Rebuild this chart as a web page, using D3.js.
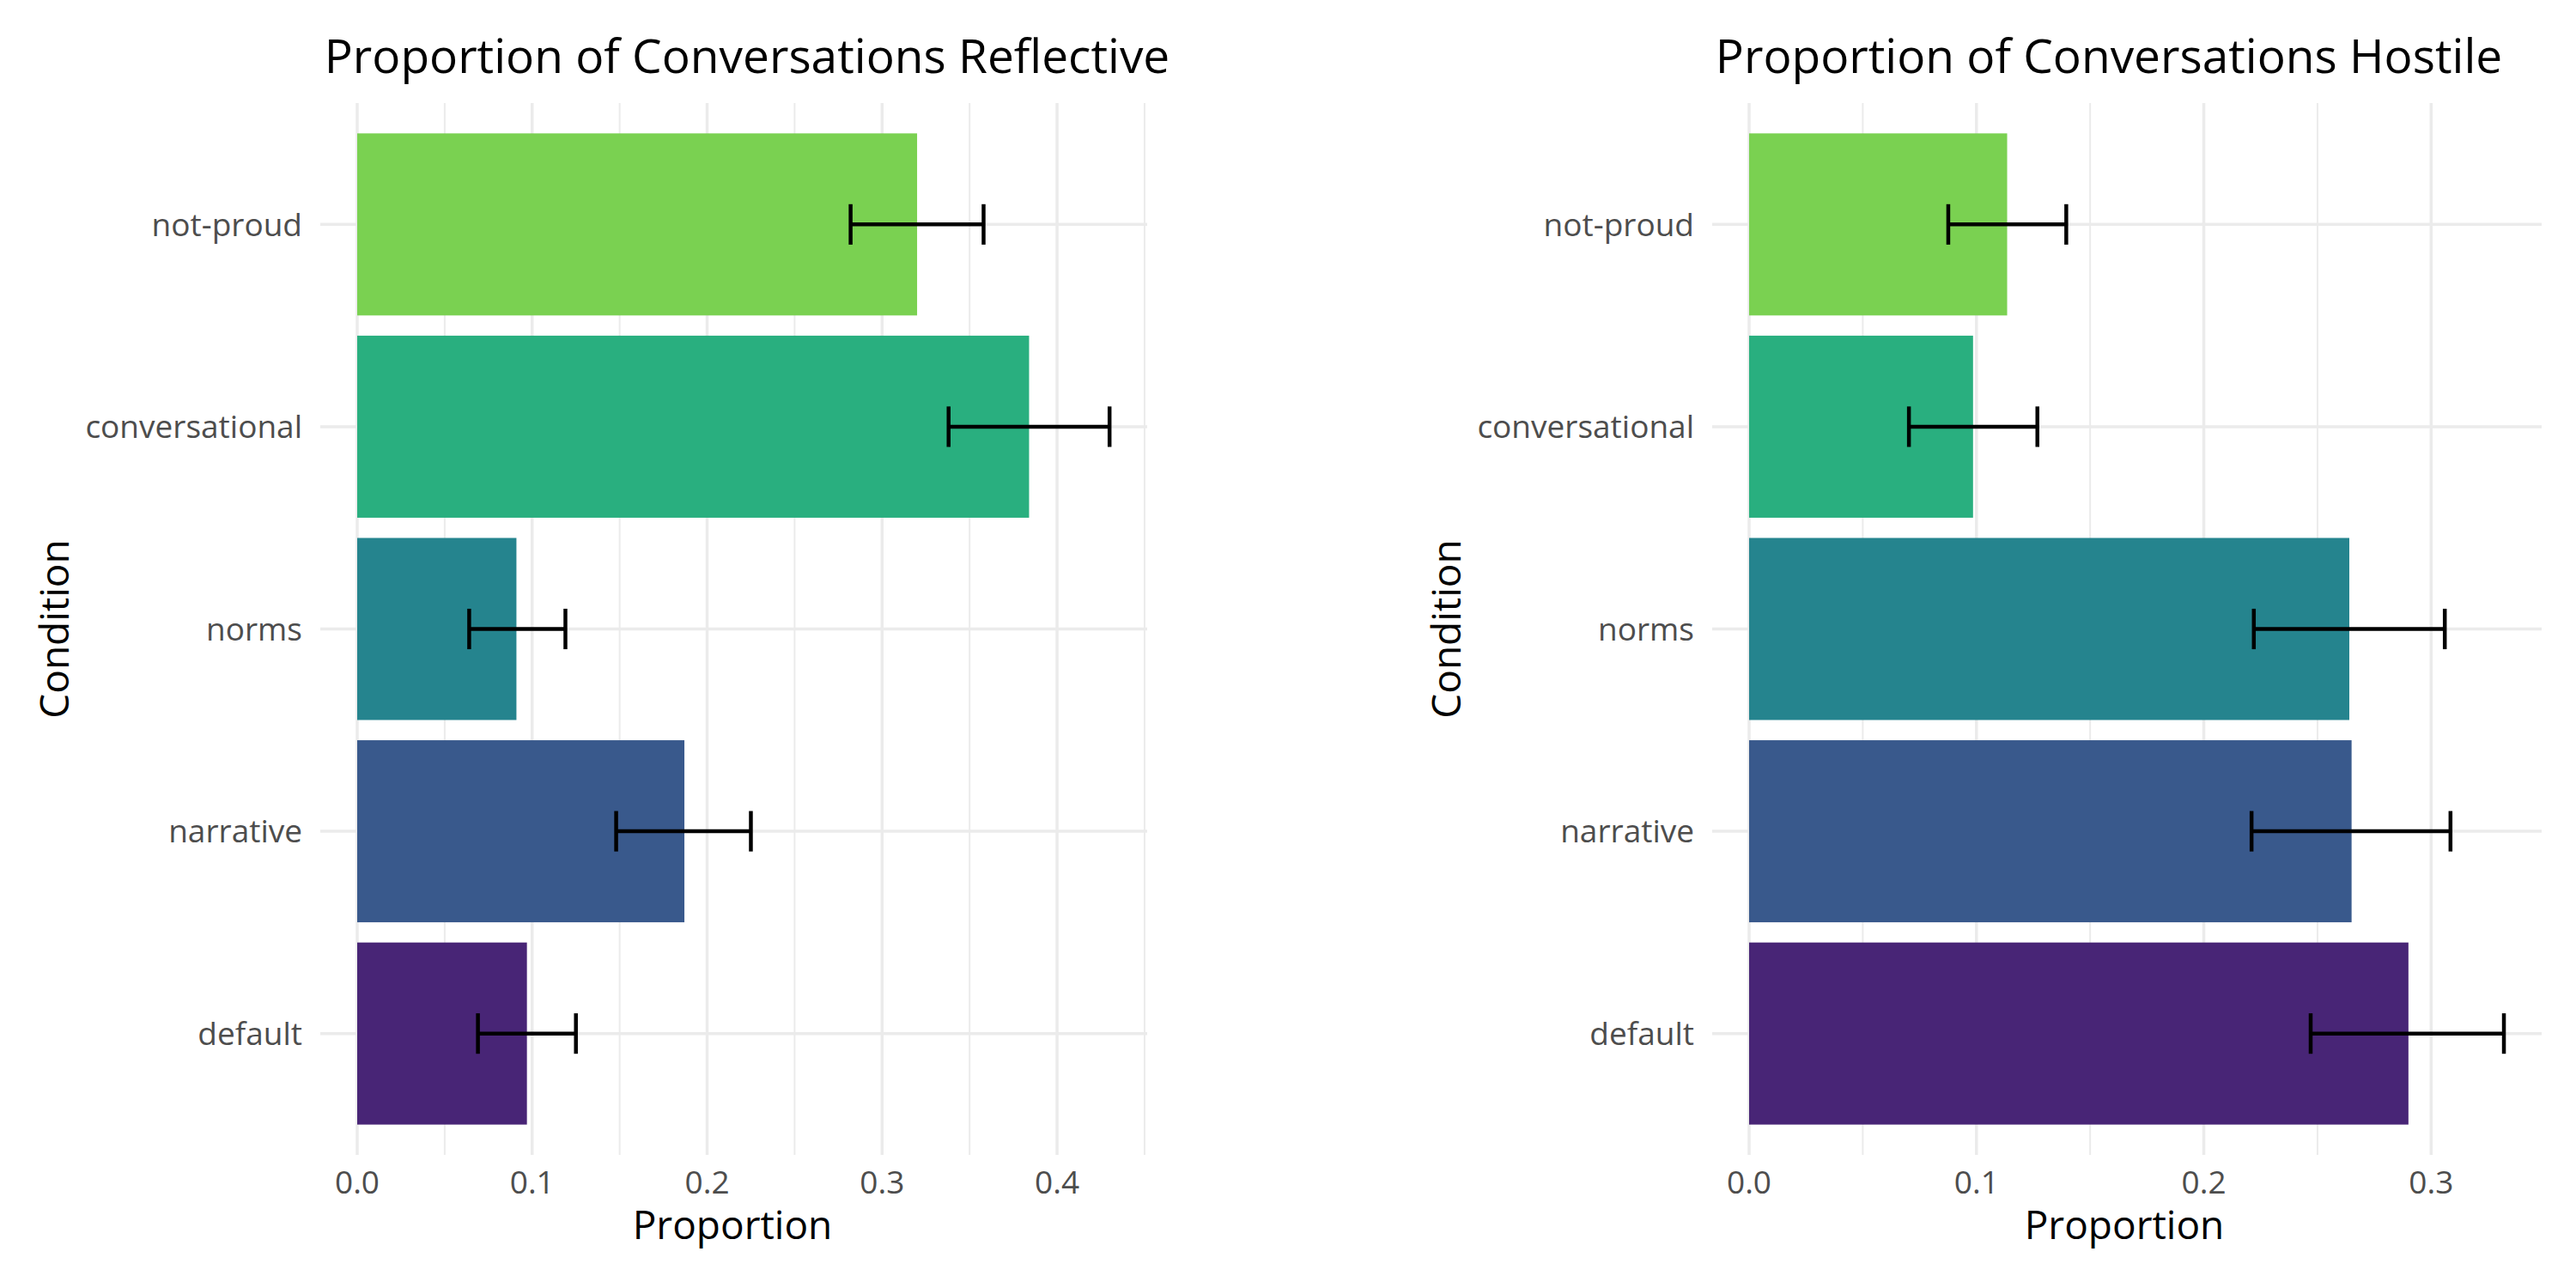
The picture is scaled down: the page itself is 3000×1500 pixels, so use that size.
<!DOCTYPE html>
<html>
<head>
<meta charset="utf-8">
<script src="https://cdn.jsdelivr.net/npm/d3@7"></script>
<style>
  body { margin: 0; background: #ffffff; }
  text { font-family: "Open Sans", sans-serif; }
</style>
</head>
<body>
<div id="chart"></div>
<script>
// categories, top to bottom
const conditions = ["not-proud", "conversational", "norms", "narrative", "default"]
const barColors = ["#7AD151", "#29AF7F", "#25848E", "#39598C", "#482576"]

// reflective panel
const reflectiveMean = [0.320, 0.384, 0.091, 0.187, 0.097]
const reflectiveLow = [0.282, 0.338, 0.064, 0.148, 0.069]
const reflectiveHigh = [0.358, 0.430, 0.119, 0.225, 0.125]

// hostile panel
const hostileMean = [0.1135, 0.0985, 0.264, 0.265, 0.290]
const hostileLow = [0.0876, 0.0703, 0.222, 0.221, 0.247]
const hostileHigh = [0.1395, 0.1268, 0.306, 0.3085, 0.332]

const titles = ["Proportion of Conversations Reflective", "Proportion of Conversations Hostile"]
const xLabel = "Proportion"
const yLabel = "Condition"

const width = 3000
const height = 1500
const panelTop = 120
const panelBottom = 1345

const svg = d3.select("#chart")
  .append("svg")
  .attr("width", width)
  .attr("height", height)

svg.append("rect")
  .attr("width", width)
  .attr("height", height)
  .attr("fill", "#ffffff")

const panels = [
  { title: titles[0], mean: reflectiveMean, low: reflectiveLow, high: reflectiveHigh, left: 416, right: 1336, condX: 80, titleX: 870, xLabX: 853 },
  { title: titles[1], mean: hostileMean, low: hostileLow, high: hostileHigh, left: 2037, right: 2960, condX: 1701, titleX: 2456, xLabX: 2474 }
]

panels.forEach(p => drawPanel(p))

function drawPanel(p) {
  const rows = conditions.map((c, i) => ({
    name: c, mean: p.mean[i], low: p.low[i], high: p.high[i], color: barColors[i]
  }))

  // starts at 0, 5% expansion on the right
  const xMax = d3.max(rows, d => d.high) * 1.05
  const x = d3.scaleLinear()
    .domain([0, xMax])
    .range([p.left, p.right])

  const y = d3.scaleBand()
    .domain(conditions)
    .range([panelTop, panelBottom])
    .paddingInner(0.1)
    .paddingOuter(0.15)

  const g = svg.append("g")

  const majorTicks = d3.range(0, xMax, 0.1)
  const minorTicks = d3.range(0.05, xMax, 0.1)

  // minor vertical grid
  g.selectAll(".minor")
    .data(minorTicks)
    .enter()
    .append("line")
    .attr("x1", d => x(d))
    .attr("x2", d => x(d))
    .attr("y1", panelTop)
    .attr("y2", panelBottom)
    .attr("stroke", "#EBEBEB")
    .attr("stroke-width", 2)

  // major vertical grid
  g.selectAll(".major")
    .data(majorTicks)
    .enter()
    .append("line")
    .attr("x1", d => x(d))
    .attr("x2", d => x(d))
    .attr("y1", panelTop)
    .attr("y2", panelBottom)
    .attr("stroke", "#EBEBEB")
    .attr("stroke-width", 3.5)

  // horizontal grid + y ticks
  g.selectAll(".hgrid")
    .data(conditions)
    .enter()
    .append("line")
    .attr("x1", p.left - 43)
    .attr("x2", p.right)
    .attr("y1", d => y(d) + y.bandwidth() / 2)
    .attr("y2", d => y(d) + y.bandwidth() / 2)
    .attr("stroke", "#EBEBEB")
    .attr("stroke-width", 3.5)

  // bars
  g.selectAll(".bar")
    .data(rows)
    .enter()
    .append("rect")
    .attr("x", x(0))
    .attr("y", d => y(d.name))
    .attr("width", d => x(d.mean) - x(0))
    .attr("height", y.bandwidth())
    .attr("fill", d => d.color)

  // error bars
  const capHalf = y.step() * 0.1
  const eb = g.selectAll(".eb")
    .data(rows)
    .enter()
    .append("g")
    .attr("stroke", "#000000")
    .attr("stroke-width", 4.5)

  eb.append("line")
    .attr("x1", d => x(d.low))
    .attr("x2", d => x(d.high))
    .attr("y1", d => y(d.name) + y.bandwidth() / 2)
    .attr("y2", d => y(d.name) + y.bandwidth() / 2)

  eb.append("line")
    .attr("x1", d => x(d.low))
    .attr("x2", d => x(d.low))
    .attr("y1", d => y(d.name) + y.bandwidth() / 2 - capHalf)
    .attr("y2", d => y(d.name) + y.bandwidth() / 2 + capHalf)

  eb.append("line")
    .attr("x1", d => x(d.high))
    .attr("x2", d => x(d.high))
    .attr("y1", d => y(d.name) + y.bandwidth() / 2 - capHalf)
    .attr("y2", d => y(d.name) + y.bandwidth() / 2 + capHalf)

  // x tick labels
  g.selectAll(".xlab")
    .data(majorTicks)
    .enter()
    .append("text")
    .attr("x", d => x(d))
    .attr("y", 1390)
    .attr("text-anchor", "middle")
    .attr("font-size", 37)
    .attr("fill", "#4D4D4D")
    .text(d => d3.format(".1f")(d))

  // y tick labels
  g.selectAll(".ylab")
    .data(conditions)
    .enter()
    .append("text")
    .attr("x", p.left - 64)
    .attr("y", d => y(d) + y.bandwidth() / 2)
    .attr("dy", "0.36em")
    .attr("text-anchor", "end")
    .attr("font-size", 37)
    .attr("fill", "#4D4D4D")
    .text(d => d)

  // axis titles
  g.append("text")
    .attr("x", p.xLabX)
    .attr("y", 1443)
    .attr("text-anchor", "middle")
    .attr("font-size", 46)
    .attr("fill", "#000000")
    .text(xLabel)

  g.append("text")
    .attr("transform", `translate(${p.condX},${(panelTop + panelBottom) / 2}) rotate(-90)`)
    .attr("text-anchor", "middle")
    .attr("font-size", 46)
    .attr("fill", "#000000")
    .text(yLabel)

  // title
  g.append("text")
    .attr("x", p.titleX)
    .attr("y", 85)
    .attr("text-anchor", "middle")
    .attr("font-size", 55)
    .attr("fill", "#000000")
    .text(p.title)
}
</script>
</body>
</html>
